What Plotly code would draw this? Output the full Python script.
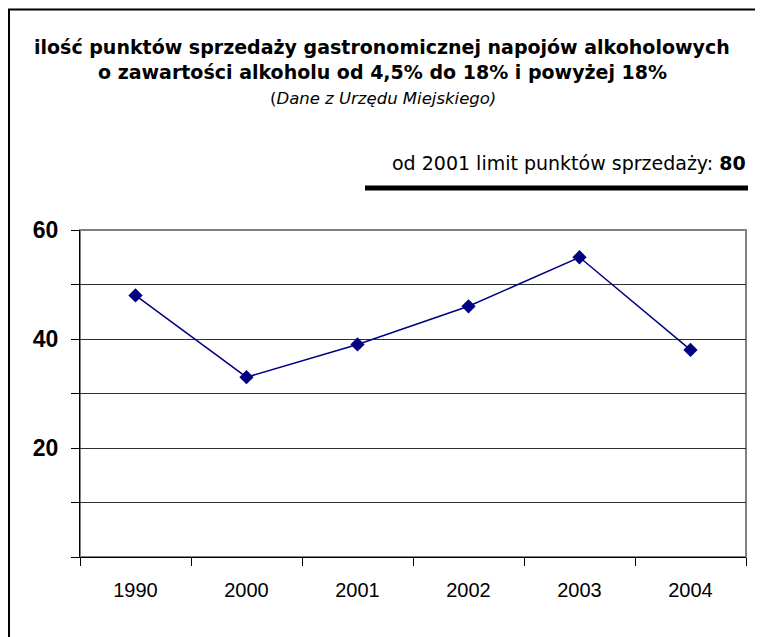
import plotly.graph_objects as go

years = ["1990", "2000", "2001", "2002", "2003", "2004"]
values = [48, 33, 39, 46, 55, 38]
y_tickvals = [0, 10, 20, 30, 40, 50, 60]
y_ticktext = ["", "", "20", "", "40", "", "60"]

title_line1 = "ilość punktów sprzedaży gastronomicznej napojów alkoholowych"
title_line2 = "o zawartości alkoholu od 4,5% do 18% i powyżej 18%"
subtitle = "(<i>Dane z Urzędu Miejskiego)</i>"
limit_text = "od 2001 limit punktów sprzedaży: <b>80</b>"

# page body has an 8px margin; figure is sized/positioned accordingly
OFF = 8
W, H = 755, 629
ml, mr, mt, mb = 72, 17, 222, 80
pw, ph = W - ml - mr, H - mt - mb


def px(xs):
    return (xs - OFF - ml) / pw


def py(ys):
    return (H - mb - (ys - OFF)) / ph


fig = go.Figure()
fig.add_trace(go.Scatter(
    x=years, y=values, mode="lines+markers",
    line=dict(color="#000080", width=1.5),
    marker=dict(symbol="diamond", size=11, color="#000080"),
    showlegend=False, cliponaxis=False,
))

title_font = dict(family="DejaVu Sans", size=19, color="black")
fig.add_annotation(x=px(382), y=py(47), xref="paper", yref="paper", text="<b>" + title_line1 + "</b>",
                   showarrow=False, font=title_font, xanchor="center", yanchor="middle")
fig.add_annotation(x=px(382), y=py(72), xref="paper", yref="paper", text="<b>" + title_line2 + "</b>",
                   showarrow=False, font=title_font, xanchor="center", yanchor="middle")
fig.add_annotation(x=px(383), y=py(98), xref="paper", yref="paper", text=subtitle,
                   showarrow=False, font=dict(family="DejaVu Sans", size=16.5, color="black"),
                   xanchor="center", yanchor="middle")
fig.add_annotation(x=px(748), y=py(163), xref="paper", yref="paper", text=limit_text,
                   showarrow=False, font=dict(family="DejaVu Sans", size=19, color="black"),
                   xanchor="right", yanchor="middle")

fig.add_shape(type="line", xref="paper", yref="paper",
              x0=px(365), x1=px(748), y0=py(188), y1=py(188),
              line=dict(color="black", width=5))
fig.add_shape(type="rect", xref="paper", yref="paper",
              x0=px(9), x1=px(762), y0=py(9.5), y1=py(680),
              line=dict(color="black", width=2), fillcolor="rgba(0,0,0,0)")
# plot area top/right border (gray)
fig.add_shape(type="rect", xref="paper", yref="paper", x0=0, x1=1, y0=0, y1=1,
              line=dict(color="#808080", width=2), fillcolor="rgba(0,0,0,0)", layer="below")

fig.update_layout(
    width=W, height=H,
    margin=dict(l=ml, r=mr, t=mt, b=mb),
    paper_bgcolor="white", plot_bgcolor="white",
    xaxis=dict(
        type="category", tickson="boundaries", ticks="outside", ticklen=8,
        tickcolor="black", showline=True, linecolor="black", linewidth=1,
        showgrid=False, tickfont=dict(family="Liberation Sans", size=20, color="black"),
        range=[-0.5, 5.5], fixedrange=True, ticklabelstandoff=15,
    ),
    yaxis=dict(
        range=[0, 60], tickvals=y_tickvals, ticktext=y_ticktext,
        ticks="outside", ticklen=8, tickcolor="black",
        showline=True, linecolor="black", linewidth=1,
        showgrid=True, gridcolor="#303030", gridwidth=1, zeroline=False,
        tickfont=dict(family="Liberation Sans", size=23, color="black", weight="bold"),
        ticklabelstandoff=8,
    ),
)

fig.write_html("out.html")
